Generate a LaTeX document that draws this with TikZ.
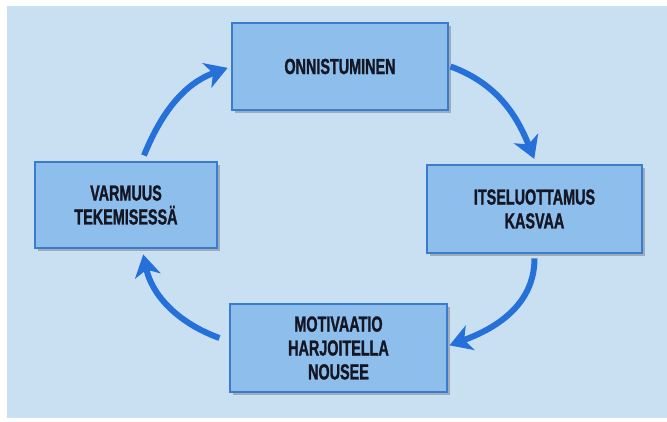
\documentclass[tikz,border=0pt]{standalone}
\usepackage{fontspec}
\newfontfamily\boxfont{Liberation Sans}[FakeStretch=0.66, FakeBold=1.2]
\usetikzlibrary{arrows.meta, positioning, shadows}
\definecolor{paper}{RGB}{201,224,243}
\definecolor{boxfill}{RGB}{142,191,236}
\definecolor{boxline}{RGB}{60,124,207}
\definecolor{arrowblue}{RGB}{38,112,218}
\definecolor{ink}{RGB}{20,22,35}

\begin{document}
\begin{tikzpicture}[
    stage/.style={draw=boxline, line width=0.8pt, fill=boxfill, align=center, text=ink,
        drop shadow={shadow xshift=0.8mm, shadow yshift=-0.8mm, opacity=0.35, fill=black!70},
        font=\boxfont\bfseries\fontsize{15.5}{17}\selectfont},
    cycle/.style={-{Stealth[length=5.5mm, width=6.5mm, inset=1.6mm]}, line width=1.5mm, draw=arrowblue},
]

% Page
\useasboundingbox (0,0) rectangle (16.675,10.525);
\fill[paper] (0.175,0.075) rectangle (16.675,10.375);

% Stages
\node[stage, minimum width=5.4cm, minimum height=2.175cm] (onn) at (8.5, 8.8625) {ONNISTUMINEN};
\node[stage, minimum width=5.375cm, minimum height=2.2cm] (its) at (13.3625, 5.3) {ITSELUOTTAMUS\\KASVAA};
\node[stage, minimum width=5.425cm, minimum height=2.2cm] (mot) at (8.4625, 1.825) {MOTIVAATIO\\HARJOITELLA\\NOUSEE};
\node[stage, minimum width=4.55cm, minimum height=2.15cm] (var) at (3.15, 5.4) {VARMUUS\\TEKEMISESSÄ};

% Cycle arrows
\draw[cycle, shorten >=0.1cm] ([xshift=0.45cm, yshift=0.15cm]var.north) to[out=68, in=200] (onn.west);
\draw[cycle, shorten >=0.15cm] ([xshift=0.05cm]onn.east) to[out=-20, in=112] ([xshift=0.05cm]its.north);
\draw[cycle, shorten >=0.05cm] ([yshift=-0.12cm]its.south) to[out=-90, in=20] ([yshift=0.05cm]mot.east);
\draw[cycle, shorten >=0.15cm] ([xshift=-0.25cm, yshift=0.25cm]mot.west) to[out=160, in=-78] ([xshift=0.4cm]var.south);

\end{tikzpicture}
\end{document}
